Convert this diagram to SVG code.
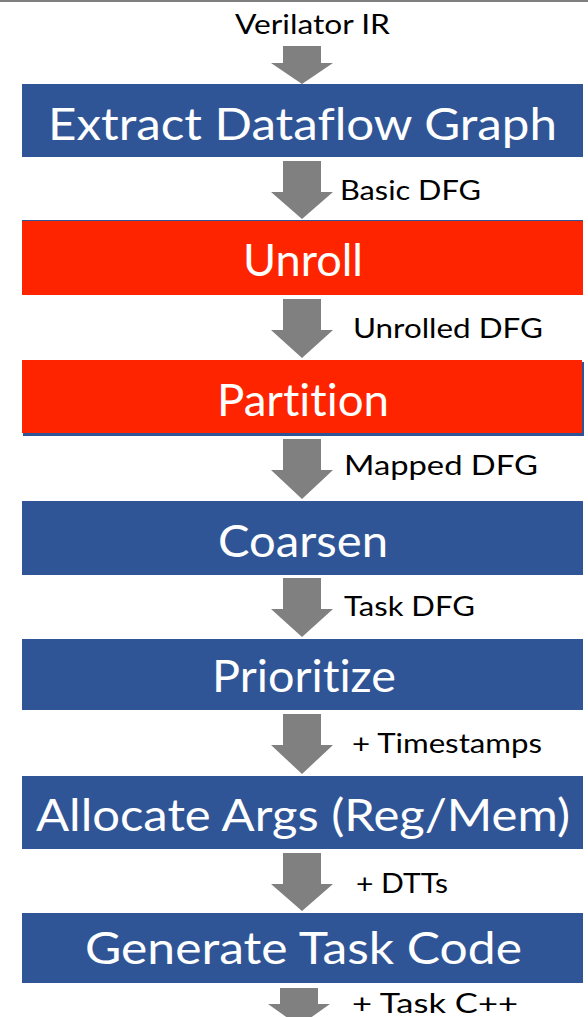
<svg xmlns="http://www.w3.org/2000/svg" width="588" height="1017" viewBox="0 0 588 1017">
<defs>
<style>
.blue{fill:#2F5597}
.red{fill:#FF2400}
.arr{fill:#808080}
.bt{font-family:Lato,"Noto Sans","Liberation Sans",sans-serif;font-size:44px;fill:#ffffff;font-variant-ligatures:none;font-feature-settings:"liga" 0,"clig" 0,"dlig" 0,"calt" 0;}
.lb{font-family:Lato,"Noto Sans","Liberation Sans",sans-serif;font-size:27px;fill:#000000;font-variant-ligatures:none;font-feature-settings:"liga" 0,"clig" 0,"dlig" 0,"calt" 0;}
</style>
</defs>
<rect x="0" y="0" width="588" height="2" fill="#7f7f7f"/>
<g id="connectors">
<path class="arr" d="M283,46 H321 V63 H333 L302,84 L271,63 H283 Z"/>
<path class="arr" d="M283,161 H321 V192 H333 L302,219 L271,192 H283 Z"/>
<path class="arr" d="M283,299 H321 V330 H333 L302,358 L271,330 H283 Z"/>
<path class="arr" d="M283,439 H321 V470 H333 L302,499 L271,470 H283 Z"/>
<path class="arr" d="M283,578 H321 V609 H333 L302,637 L271,609 H283 Z"/>
<path class="arr" d="M283,714 H321 V745 H333 L302,774 L271,745 H283 Z"/>
<path class="arr" d="M283,853 H321 V884 H333 L302,911 L271,884 H283 Z"/>
<path class="arr" d="M280,988 H318 V1004 H330 L299,1026 L268,1004 H280 Z"/>
<text class="lb" x="235" y="34" textLength="155" lengthAdjust="spacingAndGlyphs">Verilator IR</text>
<text class="lb" x="340" y="200" textLength="141" lengthAdjust="spacingAndGlyphs">Basic DFG</text>
<text class="lb" x="353" y="338" textLength="190" lengthAdjust="spacingAndGlyphs">Unrolled DFG</text>
<text class="lb" x="344" y="475" textLength="194" lengthAdjust="spacingAndGlyphs">Mapped DFG</text>
<text class="lb" x="344" y="616" textLength="131" lengthAdjust="spacingAndGlyphs">Task DFG</text>
<text class="lb" x="352" y="753" textLength="190" lengthAdjust="spacingAndGlyphs">+ Timestamps</text>
<text class="lb" x="356" y="893" textLength="92" lengthAdjust="spacingAndGlyphs">+ DTTs</text>
<text class="lb" x="352" y="1013" textLength="166" lengthAdjust="spacingAndGlyphs">+ Task C++</text>
</g>
<g id="extract">
<rect class="blue" x="22" y="84" width="561" height="73"/>
<text class="bt" x="48" y="140" textLength="509" lengthAdjust="spacingAndGlyphs">Extract Dataflow Graph</text>
</g>
<g id="unroll">
<rect class="blue" x="22" y="220" width="561" height="75"/>
<rect class="red" x="22" y="221" width="561" height="74"/>
<text class="bt" x="243" y="276" textLength="120" lengthAdjust="spacingAndGlyphs">Unroll</text>
</g>
<g id="partition">
<rect class="blue" x="23" y="362" width="561" height="74"/>
<rect class="red" x="22" y="360" width="560" height="73"/>
<text class="bt" x="217" y="416" textLength="172" lengthAdjust="spacingAndGlyphs">Partition</text>
</g>
<g id="coarsen">
<rect class="blue" x="22" y="501" width="561" height="74"/>
<text class="bt" x="218" y="557" textLength="170" lengthAdjust="spacingAndGlyphs">Coarsen</text>
</g>
<g id="prioritize">
<rect class="blue" x="22" y="639" width="561" height="71"/>
<text class="bt" x="212" y="692" textLength="184" lengthAdjust="spacingAndGlyphs">Prioritize</text>
</g>
<g id="allocate">
<rect class="blue" x="22" y="776" width="561" height="73"/>
<text class="bt" x="36" y="831" textLength="534" lengthAdjust="spacingAndGlyphs">Allocate Args (Reg/Mem)</text>
</g>
<g id="generate">
<rect class="blue" x="22" y="913" width="561" height="70"/>
<text class="bt" x="85" y="964" textLength="437" lengthAdjust="spacingAndGlyphs">Generate Task Code</text>
</g>
</svg>
